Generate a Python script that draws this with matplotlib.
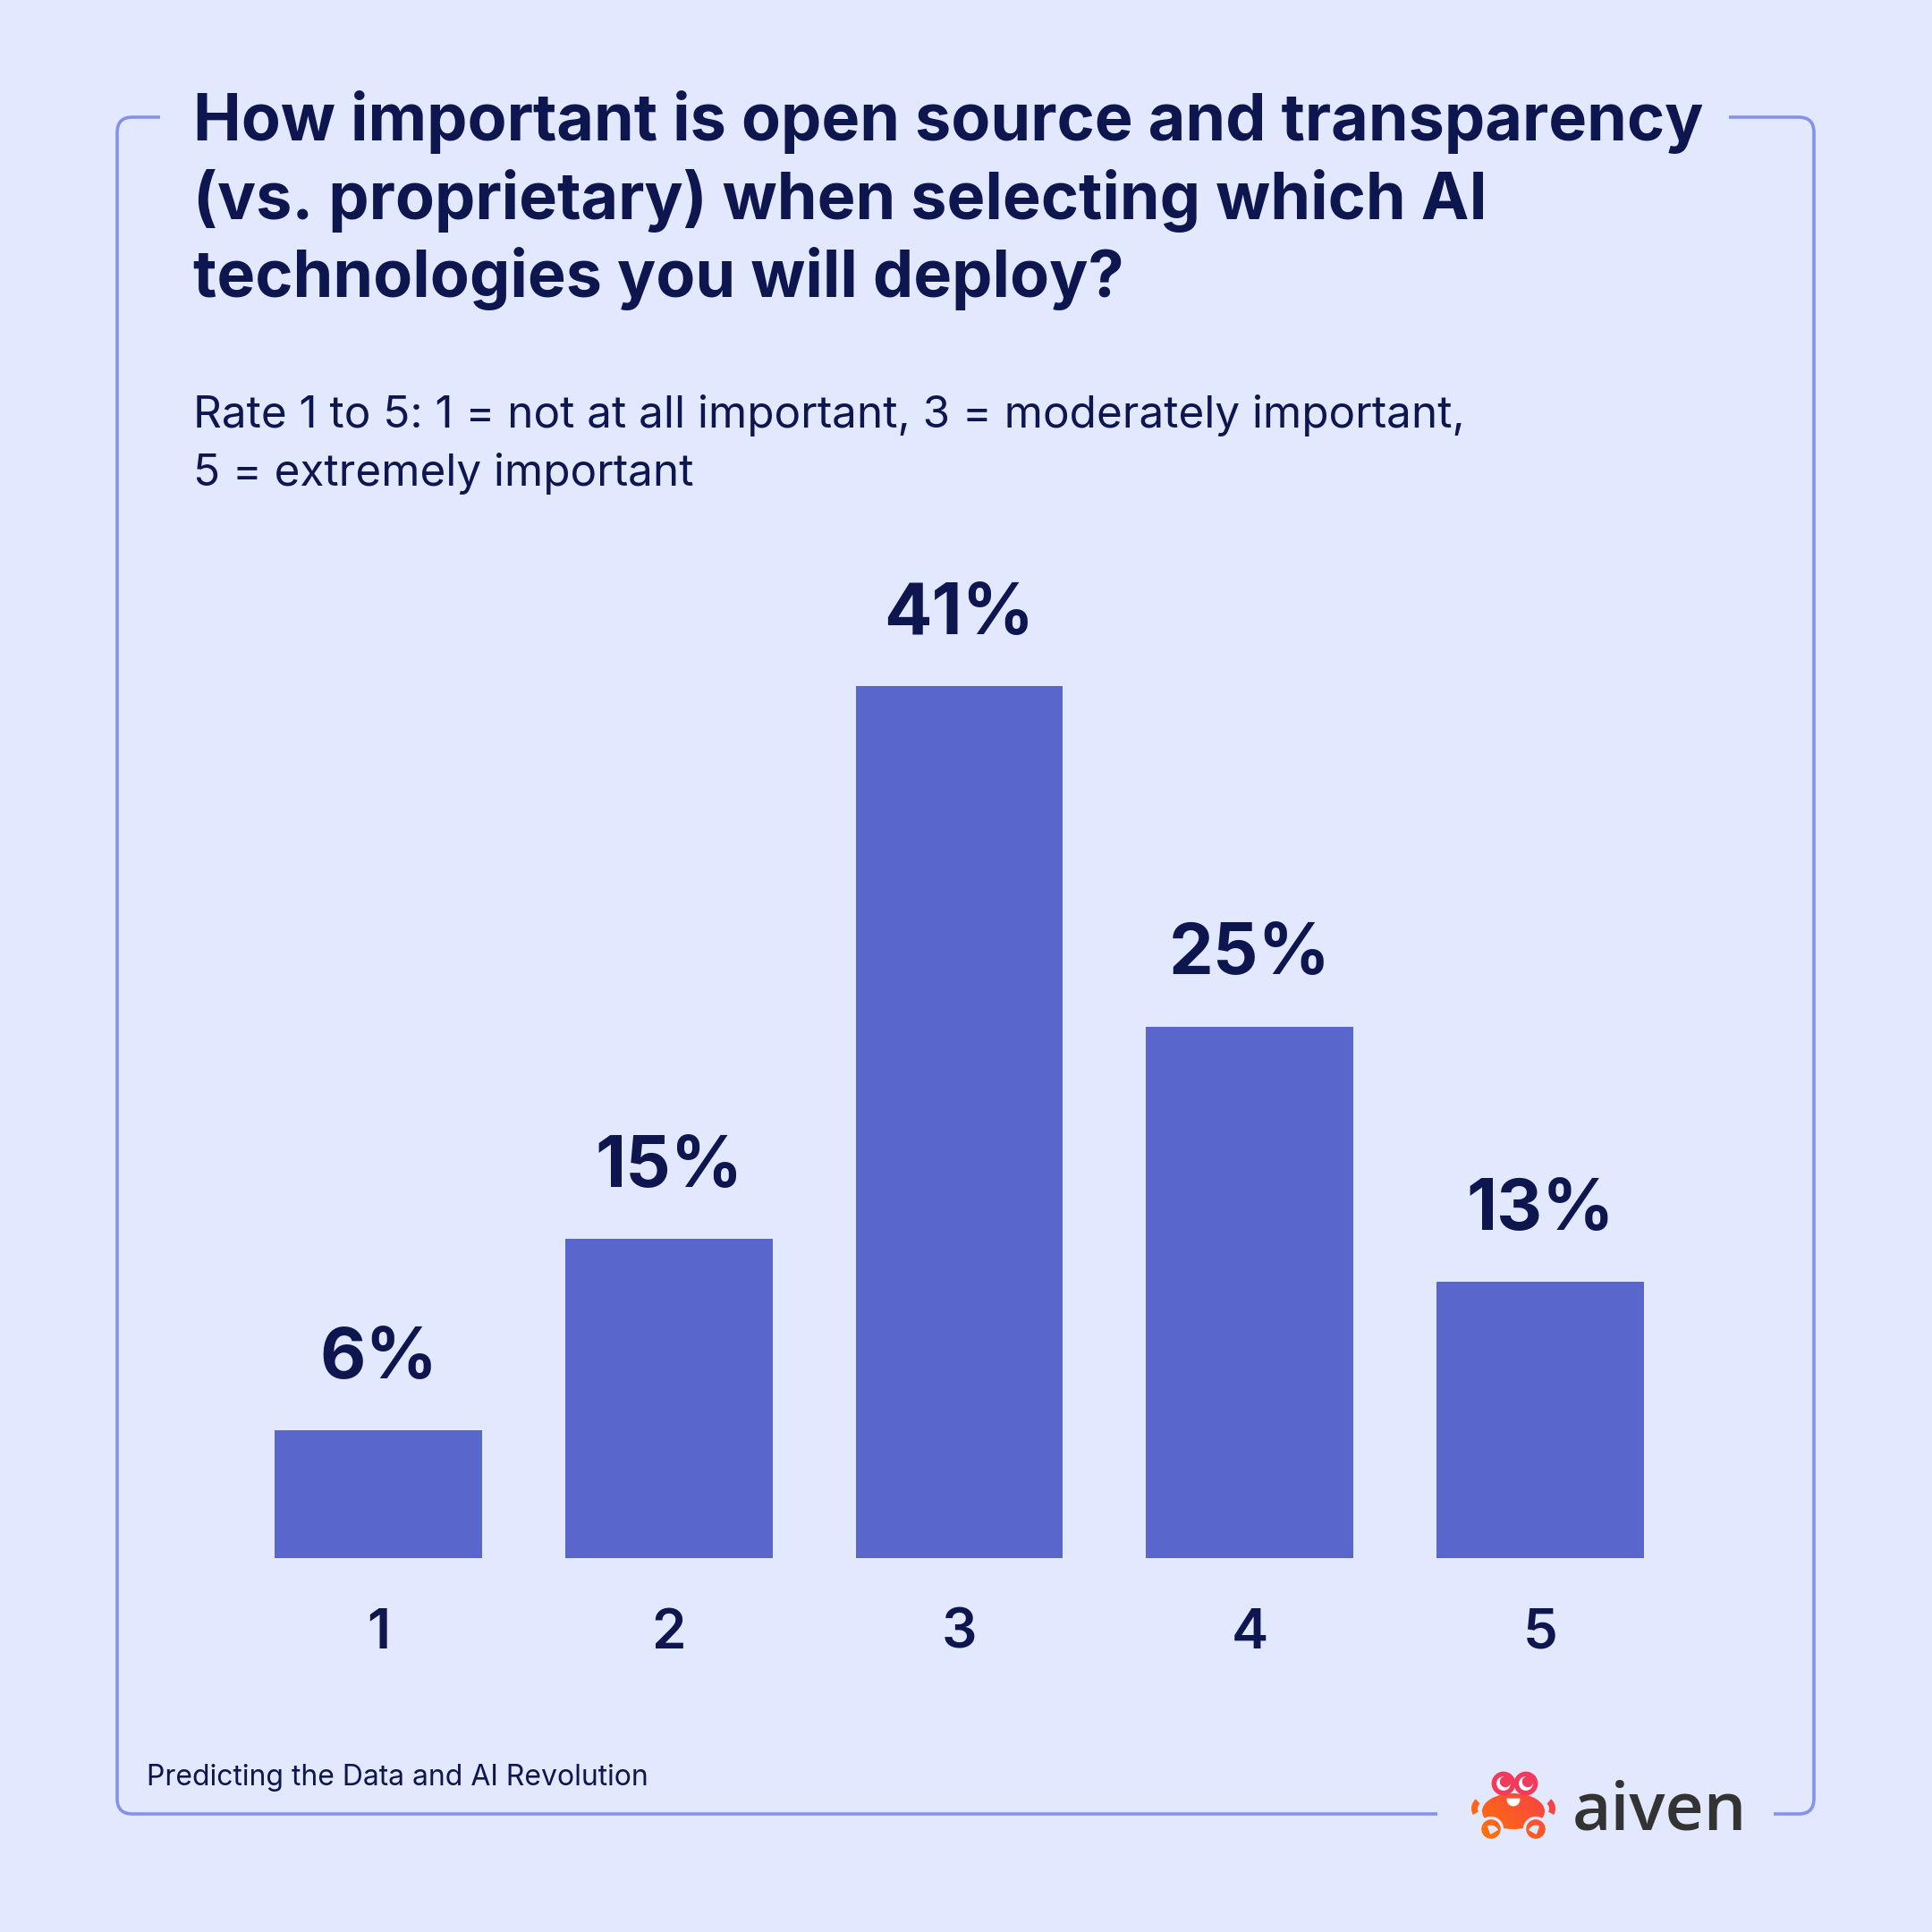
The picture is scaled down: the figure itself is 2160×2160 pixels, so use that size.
import matplotlib
matplotlib.use('Agg')
import matplotlib.pyplot as plt
import numpy as np
from matplotlib.path import Path
from matplotlib.patches import PathPatch, Circle, Ellipse, Wedge

# data
ratings = ['1', '2', '3', '4', '5']
shares = [6, 15, 41, 25, 13]
title_lines = ['How important is open source and transparency',
               '(vs. proprietary) when selecting which AI',
               'technologies you will deploy?']
subtitle_lines = ['Rate 1 to 5: 1 = not at all important, 3 = moderately important,',
                  '5 = extremely important']
source_note = 'Predicting the Data and AI Revolution'

BG = '#E2E9FE'
BAR = '#5966CC'
INK = '#0E1650'
FRAME = '#8591EA'
FONT = ['Inter', 'DejaVu Sans']

fig = plt.figure(figsize=(10.8, 10.8), dpi=200, facecolor=BG)

# pixel-space overlay for frame and texts (y grows downward)
ax_px = fig.add_axes([0, 0, 1, 1])
ax_px.set_xlim(0, 2160)
ax_px.set_ylim(2160, 0)
ax_px.axis('off')
ax_px.set_facecolor('none')

# frame with gaps for the title and logo
L, R, T, B, r = 131, 2028, 131, 2028, 17
verts_a = [(179, T), (L + r, T), (L, T), (L, T + r), (L, B - r), (L, B), (L + r, B), (1607, B)]
codes = [Path.MOVETO, Path.LINETO, Path.CURVE3, Path.CURVE3, Path.LINETO,
         Path.CURVE3, Path.CURVE3, Path.LINETO]
verts_b = [(1933, T), (R - r, T), (R, T), (R, T + r), (R, B - r), (R, B), (R - r, B), (1983, B)]
for verts in (verts_a, verts_b):
    ax_px.add_patch(PathPatch(Path(verts, codes), fill=False, edgecolor=FRAME,
                              linewidth=1.3, capstyle='butt'))

# title and subtitle
y = 157
for line in title_lines:
    ax_px.text(216, y, line, fontsize=25.9, fontweight='bold', color=INK,
               family=FONT, va='baseline', ha='left')
    y += 87.5
y = 478
for line in subtitle_lines:
    ax_px.text(216, y, line, fontsize=17.8, color=INK, family=FONT,
               va='baseline', ha='left')
    y += 65

ax_px.text(164, 1996, source_note, fontsize=11.5, color=INK, family=FONT,
           va='baseline', ha='left')

# logo: crab + wordmark
ax_px.text(1758, 2045, 'aiven', fontsize=27, fontweight='semibold', color='#333333',
           family=['Open Sans', 'DejaVu Sans'], va='baseline', ha='left')

grad = np.linspace(0, 1, 64)
gx, gy = np.meshgrid(grad, grad)
gimg = (gx + (1 - gy)) / 2
cmap = matplotlib.colors.LinearSegmentedColormap.from_list('crab', ['#FF7A00', '#F4305C'])
crab_ext = (1645, 1740, 2058, 1980)


def crab_part(patch):
    ax_px.add_patch(patch)
    im = ax_px.imshow(gimg, cmap=cmap, extent=crab_ext, origin='upper', zorder=3,
                      interpolation='bilinear')
    im.set_clip_path(patch)
    patch.set_visible(False)


# legs at the sides
for cx, a1, a2 in [(1659, 150, 230), (1725, -50, 30)]:
    crab_part(Wedge((cx, 2022), 14, a1, a2, width=7))
# body
crab_part(Ellipse((1692, 2025), 70, 40))
# claws
for cx in (1667, 1717):
    crab_part(Circle((cx, 2045), 11))
# gaps around claws
for cx in (1667, 1717):
    ax_px.add_patch(Circle((cx, 2045), 12.5, fill=False, edgecolor=BG, linewidth=1.2, zorder=4))
ax_px.add_patch(Wedge((1667, 2049), 7, 250, 330, color=BG, zorder=5))
ax_px.add_patch(Wedge((1717, 2049), 7, 210, 290, color=BG, zorder=5))
# eyes
for cx in (1681, 1706):
    ax_px.add_patch(Circle((cx, 1994), 12, color='#F33A5C', zorder=4))
    ax_px.add_patch(Circle((cx, 1994), 6.5, color='white', zorder=5))
    ax_px.add_patch(Circle((cx + 2, 1992), 4.8, color='#F33A5C', zorder=6))
# mouth
ax_px.add_patch(Wedge((1692, 2012), 6, 0, 180, color='white', zorder=5))

# bar chart
ax = fig.add_axes([260.6 / 2160, (2160 - 1742) / 2160, 1623.8 / 2160, 45 * 23.78 / 2160])
ax.set_facecolor('none')
x = np.arange(1, len(ratings) + 1)
bars = ax.bar(x, shares, width=0.714, color=BAR)
ax.set_xlim(0.5, 5.5)
ax.set_ylim(0, 45)
for rect, v in zip(bars, shares):
    ax.annotate(f'{v}%', (rect.get_x() + rect.get_width() / 2, rect.get_height()),
                xytext=(0, 21), textcoords='offset points', ha='center', va='baseline',
                fontsize=28.5, fontweight='bold', color=INK, family=FONT)
ax.set_xticks(x)
ax.set_xticklabels(ratings, fontsize=22.3, fontweight='semibold', color=INK, family=FONT)
ax.tick_params(axis='x', length=0, pad=20)
ax.set_yticks([])
for s in ax.spines.values():
    s.set_visible(False)

fig.savefig('out.png', dpi=200, facecolor=BG)
